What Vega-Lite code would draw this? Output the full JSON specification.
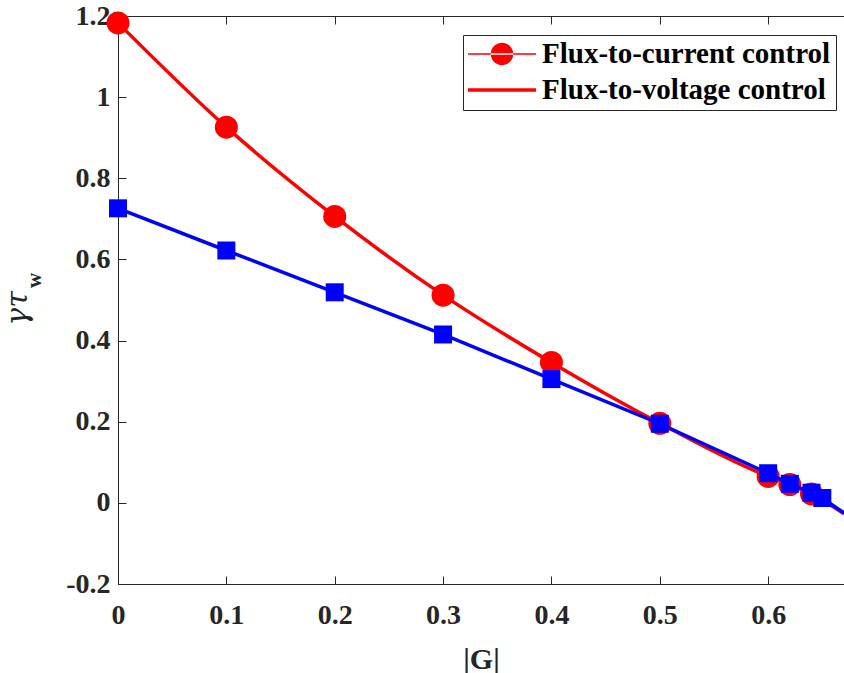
{
  "$schema": "https://vega.github.io/schema/vega-lite/v6.json",
  "width": 726,
  "height": 568,
  "autosize": "none",
  "padding": {"left": 118, "top": 16, "right": 0, "bottom": 89},
  "background": "white",
  "datasets": {
    "curves": [
      {"G": 0.0, "rate": 1.183, "series": "Flux-to-current control"},
      {"G": 0.1, "rate": 0.926, "series": "Flux-to-current control"},
      {"G": 0.2, "rate": 0.706, "series": "Flux-to-current control"},
      {"G": 0.3, "rate": 0.512, "series": "Flux-to-current control"},
      {"G": 0.4, "rate": 0.346, "series": "Flux-to-current control"},
      {"G": 0.5, "rate": 0.196, "series": "Flux-to-current control"},
      {"G": 0.6, "rate": 0.065, "series": "Flux-to-current control"},
      {"G": 0.62, "rate": 0.045, "series": "Flux-to-current control"},
      {"G": 0.64, "rate": 0.022, "series": "Flux-to-current control"},
      {"G": 0.67, "rate": -0.027, "series": "Flux-to-current control"},
      {"G": 0.0, "rate": 0.726, "series": "Flux-to-voltage control"},
      {"G": 0.1, "rate": 0.622, "series": "Flux-to-voltage control"},
      {"G": 0.2, "rate": 0.519, "series": "Flux-to-voltage control"},
      {"G": 0.3, "rate": 0.415, "series": "Flux-to-voltage control"},
      {"G": 0.4, "rate": 0.305, "series": "Flux-to-voltage control"},
      {"G": 0.5, "rate": 0.195, "series": "Flux-to-voltage control"},
      {"G": 0.6, "rate": 0.073, "series": "Flux-to-voltage control"},
      {"G": 0.62, "rate": 0.047, "series": "Flux-to-voltage control"},
      {"G": 0.64, "rate": 0.025, "series": "Flux-to-voltage control"},
      {"G": 0.65, "rate": 0.012, "series": "Flux-to-voltage control"},
      {"G": 0.67, "rate": -0.025, "series": "Flux-to-voltage control"}
    ]
  },
  "resolve": {"axis": {"x": "independent", "y": "independent"}},
  "layer": [
    {
      "mark": {"type": "rule", "color": "black", "strokeWidth": 1.5, "strokeDash": [17, 10]},
      "encoding": {"y": {"datum": 0, "type": "quantitative", "scale": {"domain": [-0.2, 1.2]}, "axis": null}}
    },
    {
      "data": {"name": "curves"},
      "transform": [{"filter": "datum.series === 'Flux-to-current control'"}],
      "mark": {"type": "line", "strokeWidth": 3.5, "interpolate": "monotone", "clip": true},
      "encoding": {
        "x": {
          "field": "G", "type": "quantitative",
          "scale": {"domain": [0, 0.67], "nice": false, "zero": false},
          "axis": {
            "orient": "bottom",
            "values": [0, 0.1, 0.2, 0.3, 0.4, 0.5, 0.6],
            "labelExpr": "format(datum.value, '~g')",
            "title": "|G|",
            "titleFontSize": 30,
            "titleFontWeight": "bold",
            "titleFont": "Liberation Serif",
            "titleColor": "#262626",
            "titlePadding": 15,
            "labelFont": "Liberation Serif",
            "labelFontSize": 28,
            "labelFontWeight": "bold",
            "labelColor": "#262626",
            "labelFlush": false,
            "labelOverlap": false,
            "labelBound": false,
            "labelPadding": 25,
            "tickSize": -8,
            "tickColor": "#262626",
            "domainColor": "#262626",
            "grid": false
          }
        },
        "y": {
          "field": "rate", "type": "quantitative",
          "scale": {"domain": [-0.2, 1.2], "nice": false, "zero": false},
          "axis": {
            "orient": "left",
            "values": [-0.2, 0, 0.2, 0.4, 0.6, 0.8, 1, 1.2],
            "labelExpr": "replace(format(datum.value, '~g'), '\u2212', '-')",
            "title": "\u03b3\u03c4",
            "titleFont": "DejaVu Serif",
            "titleFontSize": 30,
            "titleFontStyle": "italic",
            "titleFontWeight": "normal",
            "titleColor": "#262626",
            "titleAngle": -90,
            "titleAlign": "center",
            "titleBaseline": "alphabetic",
            "titleX": -92,
            "titleY": 292,
            "labelFont": "Liberation Serif",
            "labelFontSize": 28,
            "labelFontWeight": "bold",
            "labelColor": "#262626",
            "labelOverlap": false,
            "labelBound": false,
            "labelPadding": 16,
            "tickSize": -8,
            "tickColor": "#262626",
            "domainColor": "#262626",
            "grid": false
          }
        },
        "color": {
          "field": "series", "type": "nominal",
          "scale": {"domain": ["Flux-to-current control", "Flux-to-voltage control"], "range": ["#ff0000", "#ff0000"]},
          "legend": {
            "orient": "none",
            "legendX": 345,
            "legendY": 19,
            "title": null,
            "direction": "vertical",
            "fillColor": "white",
            "strokeColor": "#262626",
            "padding": 5,
            "rowPadding": 7,
            "clipHeight": 28,
            "symbolSize": 4624,
            "symbolOffset": 0,
            "labelOffset": 6,
            "labelFont": "Liberation Serif",
            "labelFontSize": 29,
            "labelFontWeight": "bold",
            "labelColor": "black",
            "labelLimit": 500,
            "encode": {
              "symbols": {
                "update": {
                  "shape": {"signal": "datum.value === 'Flux-to-current control' ? 'M-1,-0.022H1V0.022H-1ZM-0.33,0A0.33,0.33 0 1 0 0.33,0A0.33,0.33 0 1 0 -0.33,0Z' : 'M-1,-0.055H1V0.055H-1Z'"},
                  "size": {"value": 4624},
                  "fill": {"value": "#ff0000"},
                  "stroke": {"value": "transparent"},
                  "strokeWidth": {"value": 0},
                  "opacity": {"value": 1},
                  "fillOpacity": {"value": 1}
                }
              }
            }
          }
        }
      }
    },
    {
      "data": {"name": "curves"},
      "transform": [{"filter": "datum.series === 'Flux-to-current control' && datum.G < 0.66"}],
      "mark": {"type": "point", "shape": "circle", "filled": true, "size": 529, "color": "#ff0000", "opacity": 1},
      "encoding": {
        "x": {"field": "G", "type": "quantitative", "axis": null},
        "y": {"field": "rate", "type": "quantitative", "axis": null}
      }
    },
    {
      "data": {"name": "curves"},
      "transform": [{"filter": "datum.series === 'Flux-to-voltage control'"}],
      "mark": {"type": "line", "strokeWidth": 3.5, "color": "#0000ff", "clip": true},
      "encoding": {
        "x": {"field": "G", "type": "quantitative", "axis": null},
        "y": {"field": "rate", "type": "quantitative", "axis": null}
      }
    },
    {
      "data": {"name": "curves"},
      "transform": [{"filter": "datum.series === 'Flux-to-voltage control' && datum.G < 0.66"}],
      "mark": {"type": "point", "shape": "square", "filled": true, "size": 324, "color": "#0000ff", "opacity": 1},
      "encoding": {
        "x": {"field": "G", "type": "quantitative", "axis": null},
        "y": {"field": "rate", "type": "quantitative", "axis": null}
      }
    },
    {
      "data": {"name": "curves"},
      "mark": {"type": "point", "opacity": 0},
      "encoding": {
        "x": {
          "field": "G", "type": "quantitative",
          "axis": {
            "orient": "top",
            "values": [0, 0.1, 0.2, 0.3, 0.4, 0.5, 0.6],
            "labels": false,
            "title": null,
            "tickSize": -8,
            "tickColor": "#262626",
            "domainColor": "#262626",
            "grid": false
          }
        },
        "y": {
          "field": "rate", "type": "quantitative",
          "axis": {
            "orient": "left",
            "labels": false,
            "ticks": false,
            "domain": false,
            "grid": false,
            "title": "w",
            "titleFont": "Liberation Serif",
            "titleFontSize": 21,
            "titleFontWeight": "bold",
            "titleColor": "#262626",
            "titleAngle": -90,
            "titleAlign": "center",
            "titleBaseline": "alphabetic",
            "titleX": -78,
            "titleY": 264
          }
        }
      }
    }
  ],
  "config": {"view": {"stroke": null}}
}
